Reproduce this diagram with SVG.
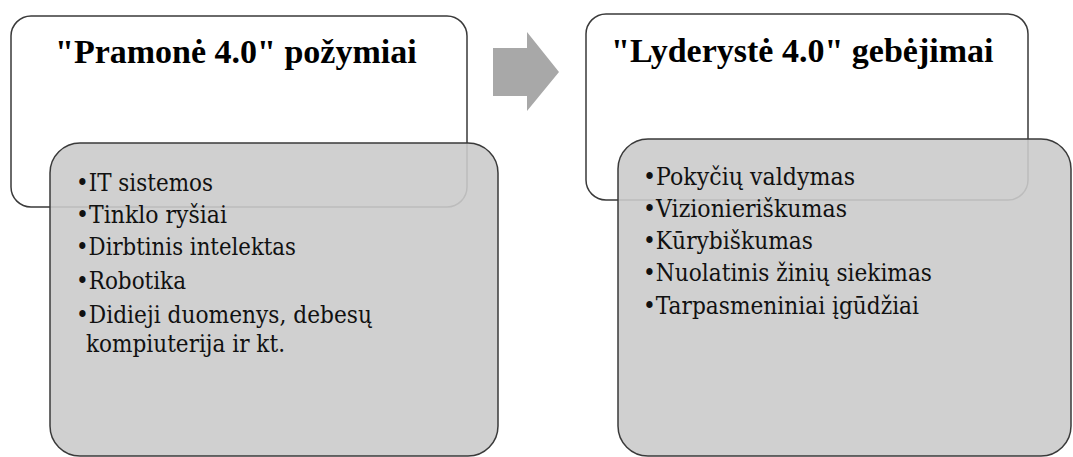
<svg xmlns="http://www.w3.org/2000/svg" width="1073" height="457" viewBox="0 0 1073 457">
<style>
.hdr{fill:#ffffff;stroke:#3a3a3a;stroke-width:1.5}
.body{fill:#cbcbcb;fill-opacity:0.9;stroke:#3a3a3a;stroke-width:1.5}
.title{font-family:"Liberation Serif","Times New Roman",serif;font-weight:bold;font-size:34px;fill:#000}
.item{font-family:"DejaVu Serif","Liberation Serif",serif;font-size:25px;fill:#111}
.arrow{fill:#a8a8a8}
</style>
<g id="node-pramone">
<rect class="hdr" x="11" y="16" width="456" height="191" rx="20" ry="20"/>
<text class="title" x="55" y="63">"Pramonė 4.0" požymiai</text>
</g>
<g id="node-pramone-list">
<rect class="body" x="50" y="143" width="448" height="313" rx="30" ry="30"/>
<text class="item" x="76" y="191" textLength="137" lengthAdjust="spacingAndGlyphs">•IT sistemos</text>
<text class="item" x="76" y="223" textLength="151" lengthAdjust="spacingAndGlyphs">•Tinklo ryšiai</text>
<text class="item" x="76" y="255" textLength="220" lengthAdjust="spacingAndGlyphs">•Dirbtinis intelektas</text>
<text class="item" x="76" y="289" textLength="110" lengthAdjust="spacingAndGlyphs">•Robotika</text>
<text class="item" x="76" y="323" textLength="296" lengthAdjust="spacingAndGlyphs">•Didieji duomenys, debesų</text>
<text class="item" x="86" y="352" textLength="199" lengthAdjust="spacingAndGlyphs">kompiuterija ir kt.</text>
</g>
<g id="connectors">
<polygon class="arrow" points="493,48 527,48 527,32 559,72 527,111 527,96 493,96"/>
</g>
<g id="node-lyderyste">
<rect class="hdr" x="586" y="14" width="442" height="186" rx="20" ry="20"/>
<text class="title" x="611" y="62">"Lyderystė 4.0" gebėjimai</text>
</g>
<g id="node-lyderyste-list">
<rect class="body" x="618" y="139" width="453" height="317" rx="30" ry="30"/>
<text class="item" x="643" y="185" textLength="212" lengthAdjust="spacingAndGlyphs">•Pokyčių valdymas</text>
<text class="item" x="643" y="217" textLength="204" lengthAdjust="spacingAndGlyphs">•Vizionieriškumas</text>
<text class="item" x="643" y="249" textLength="170" lengthAdjust="spacingAndGlyphs">•Kūrybiškumas</text>
<text class="item" x="643" y="281" textLength="289" lengthAdjust="spacingAndGlyphs">•Nuolatinis žinių siekimas</text>
<text class="item" x="643" y="314" textLength="276" lengthAdjust="spacingAndGlyphs">•Tarpasmeniniai įgūdžiai</text>
</g>
</svg>
